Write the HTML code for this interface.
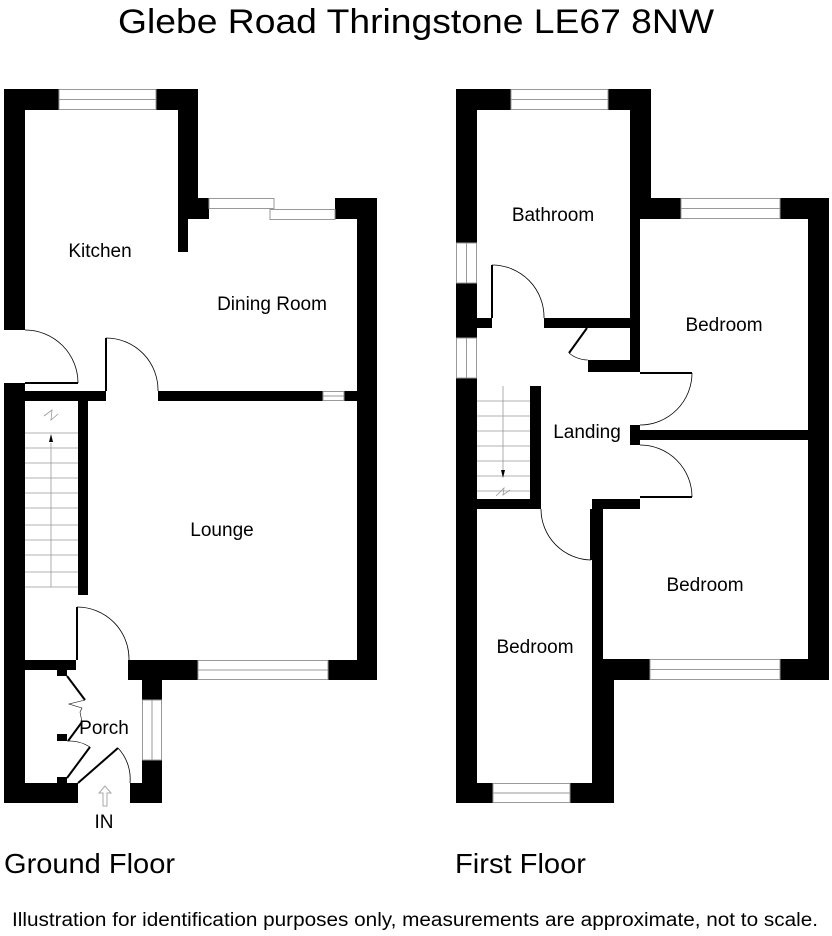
<!DOCTYPE html>
<html><head><meta charset="utf-8"><style>
html,body{margin:0;padding:0;background:#fff;width:832px;height:936px;overflow:hidden}
text{font-family:"Liberation Sans",sans-serif;fill:#000}
</style></head><body>
<svg width="832" height="936" viewBox="0 0 832 936" xmlns="http://www.w3.org/2000/svg">
<text x="416" y="33" font-size="34" text-anchor="middle" textLength="596" lengthAdjust="spacingAndGlyphs">Glebe Road Thringstone LE67 8NW</text>

<g fill="#000">
<rect x="4" y="89" width="55" height="21"/>
<rect x="156" y="89" width="42" height="21"/>
<rect x="4" y="89" width="21" height="241"/>
<rect x="178" y="89" width="20" height="130"/>
<rect x="178" y="198" width="31" height="21"/>
<rect x="178" y="198" width="10" height="54"/>
<rect x="335" y="198" width="42" height="21"/>
<rect x="357" y="198" width="20" height="482"/>
<rect x="4" y="383" width="21" height="420"/>
<rect x="25" y="391" width="81" height="10"/>
<rect x="158" y="391" width="165" height="10"/>
<rect x="344" y="391" width="13" height="10"/>
<rect x="78" y="401" width="10" height="194"/>
<rect x="25" y="660" width="51" height="10"/>
<rect x="128" y="660" width="70" height="20"/>
<rect x="328" y="660" width="49" height="20"/>
<rect x="142" y="660" width="20" height="40"/>
<rect x="142" y="760" width="20" height="43"/>
<rect x="130" y="783" width="32" height="20"/>
<rect x="4" y="783" width="74" height="20"/>
<rect x="57" y="670" width="10" height="6"/>
<rect x="57" y="734" width="10" height="7"/>
<rect x="57" y="777" width="10" height="7"/>
</g>
<g fill="none" stroke="#999" stroke-width="1">
<rect x="59" y="89.5" width="97" height="20"/><line x1="59" y1="99.5" x2="156" y2="99.5"/>
<rect x="209" y="198.5" width="65" height="10"/><rect x="270" y="209.5" width="65" height="10"/>
<rect x="323" y="391.5" width="21" height="9"/><line x1="323" y1="396" x2="344" y2="396"/>
<rect x="198" y="660.5" width="130" height="19"/><line x1="198" y1="670" x2="328" y2="670"/>
<rect x="142.5" y="700" width="19" height="60"/><line x1="152" y1="700" x2="152" y2="760"/>
</g>
<g fill="none" stroke="#000">
<path d="M25 330 A53 53 0 0 1 78 383" stroke-width="0.8"/>
<line x1="25" y1="383" x2="78" y2="383" stroke-width="2"/>
<path d="M106 338 A52 52 0 0 1 158 391" stroke-width="0.8"/>
<line x1="106" y1="338" x2="106" y2="391" stroke-width="2"/>
<path d="M77 607 A52 52 0 0 1 129 660" stroke-width="0.8"/>
<line x1="77" y1="607" x2="77" y2="660" stroke-width="2"/>
<path d="M67 676 L85 700 M82 722 L68 741 M90 747 L67 778 M78 783 L118 748" stroke-width="2"/>
<path d="M85 700 L69 704 L82 708 L80 712 L82 722" stroke-width="0.6"/>
<path d="M67 741 A40 40 0 0 1 90 747" stroke-width="0.6"/>
<path d="M118 748 A45 45 0 0 1 130 783" stroke-width="0.8"/>
</g>
<g stroke="#999" stroke-width="0.8" fill="none">
<line x1="25" y1="433" x2="78" y2="433"/><line x1="25" y1="448" x2="78" y2="448"/>
<line x1="25" y1="463" x2="78" y2="463"/><line x1="25" y1="478" x2="78" y2="478"/>
<line x1="25" y1="493" x2="78" y2="493"/><line x1="25" y1="508" x2="78" y2="508"/>
<line x1="25" y1="525" x2="78" y2="525"/><line x1="25" y1="540" x2="78" y2="540"/>
<line x1="25" y1="555" x2="78" y2="555"/><line x1="25" y1="572" x2="78" y2="572"/>
<line x1="25" y1="587" x2="78" y2="587"/>
<line x1="51" y1="443" x2="51" y2="587"/>
<path d="M44 416 L52 410 L51 420 L58 414"/>
</g>
<path d="M51 434 L49 442 L53 442 Z" fill="#000"/>
<path d="M105 786 L99 793 L103 793 L103 806 L107 806 L107 793 L111 793 Z" fill="none" stroke="#aaa" stroke-width="1"/>
<text x="104" y="828" font-size="19" text-anchor="middle">IN</text>
<text x="100" y="257" font-size="19" text-anchor="middle">Kitchen</text>
<text x="272" y="310" font-size="19" text-anchor="middle">Dining Room</text>
<text x="222" y="536" font-size="19" text-anchor="middle">Lounge</text>
<text x="104" y="734" font-size="19" text-anchor="middle">Porch</text>

<g fill="#000">
<rect x="456" y="89" width="55" height="21"/>
<rect x="608" y="89" width="43" height="21"/>
<rect x="456" y="89" width="21" height="154"/>
<rect x="456" y="283" width="21" height="55"/>
<rect x="456" y="378" width="21" height="425"/>
<rect x="630" y="89" width="21" height="130"/>
<rect x="630" y="198" width="51" height="21"/>
<rect x="630" y="198" width="10" height="174"/>
<rect x="780" y="198" width="49" height="21"/>
<rect x="808" y="198" width="21" height="482"/>
<rect x="477" y="318" width="15" height="10"/>
<rect x="544" y="318" width="86" height="10"/>
<rect x="588" y="360" width="52" height="12"/>
<rect x="630" y="430" width="178" height="10"/>
<rect x="630" y="425" width="10" height="20"/>
<rect x="530" y="386" width="11" height="123"/>
<rect x="477" y="499" width="64" height="10"/>
<rect x="592" y="499" width="48" height="10"/>
<rect x="592" y="499" width="11" height="160"/>
<rect x="592" y="659" width="58" height="21"/>
<rect x="780" y="659" width="49" height="21"/>
<rect x="592" y="659" width="22" height="144"/>
<rect x="456" y="783" width="37" height="20"/>
<rect x="570" y="783" width="44" height="20"/>
</g>
<g fill="none" stroke="#999" stroke-width="1">
<rect x="511" y="89.5" width="97" height="20"/><line x1="511" y1="99.5" x2="608" y2="99.5"/>
<rect x="681" y="198.5" width="99" height="20"/><line x1="681" y1="208.5" x2="780" y2="208.5"/>
<rect x="456.5" y="243" width="20" height="40"/><line x1="466.5" y1="243" x2="466.5" y2="283"/>
<rect x="456.5" y="338" width="20" height="40"/><line x1="466.5" y1="338" x2="466.5" y2="378"/>
<rect x="650" y="659.5" width="130" height="20"/><line x1="650" y1="669.5" x2="780" y2="669.5"/>
<rect x="493" y="783.5" width="77" height="19"/><line x1="493" y1="793" x2="570" y2="793"/>
</g>
<g fill="none" stroke="#000">
<path d="M492 265 A52 52 0 0 1 544 318" stroke-width="0.8"/>
<line x1="492" y1="265" x2="492" y2="318" stroke-width="2"/>
<line x1="587" y1="328" x2="569" y2="353" stroke-width="2"/>
<path d="M569 353 A30 30 0 0 0 588 360" stroke-width="0.6"/>
<line x1="640" y1="373" x2="692" y2="373" stroke-width="2"/>
<path d="M692 373 A52 52 0 0 1 640 425" stroke-width="0.8"/>
<line x1="640" y1="497" x2="692" y2="497" stroke-width="2"/>
<path d="M640 445 A52 52 0 0 1 692 497" stroke-width="0.8"/>
<line x1="591" y1="509" x2="591" y2="560" stroke-width="2"/>
<path d="M541 509 A51 51 0 0 0 591 560" stroke-width="0.8"/>
</g>
<g stroke="#999" stroke-width="0.8" fill="none">
<line x1="477" y1="401" x2="530" y2="401"/><line x1="477" y1="416" x2="530" y2="416"/>
<line x1="477" y1="431" x2="530" y2="431"/><line x1="477" y1="446" x2="530" y2="446"/>
<line x1="477" y1="461" x2="530" y2="461"/><line x1="477" y1="476" x2="530" y2="476"/>
<line x1="477" y1="491" x2="530" y2="491"/>
<line x1="503" y1="386" x2="503" y2="472"/>
<path d="M496 496 L504 488 L503 495 L510 490"/>
</g>
<path d="M503 478 L501 470 L505 470 Z" fill="#000"/>
<text x="553" y="221" font-size="19" text-anchor="middle">Bathroom</text>
<text x="724" y="331" font-size="19" text-anchor="middle">Bedroom</text>
<text x="587" y="438" font-size="19" text-anchor="middle">Landing</text>
<text x="705" y="591" font-size="19" text-anchor="middle">Bedroom</text>
<text x="535" y="653" font-size="19" text-anchor="middle">Bedroom</text>

<text x="4" y="873" font-size="28" textLength="171" lengthAdjust="spacingAndGlyphs">Ground Floor</text>
<text x="455" y="873" font-size="28" textLength="131" lengthAdjust="spacingAndGlyphs">First Floor</text>
<text x="12" y="926" font-size="19" textLength="806" lengthAdjust="spacingAndGlyphs">Illustration for identification purposes only, measurements are approximate, not to scale.</text>
</svg>
</body></html>
